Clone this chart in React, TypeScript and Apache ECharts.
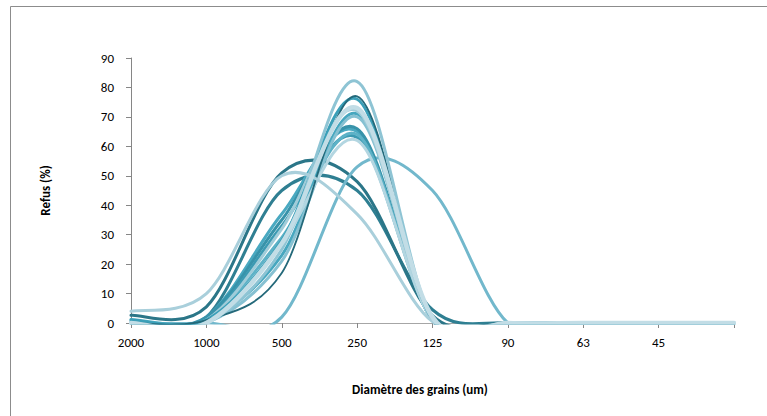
import React, { useEffect, useRef } from "react";
import * as echarts from "echarts";

// Sieve sizes (um); the last tick carries no label
const categories = ["2000", "1000", "500", "250", "125", "90", "63", "45", ""];

const yMin = 0;
const yMax = 90;
const yInterval = 10;

const xTitle = "Diamètre des grains (um)";
const yTitle = "Refus (%)";

// Refus (%) per sample, one value per sieve
const broadA = [2.6, 5.5, 51, 48, 2.5, 0, 0, 0, 0];
const broadB = [0.5, 2, 45, 45, 4.5, 0, 0, 0, 0];
const broadP = [4, 10, 50, 37, 0.5, 0, 0, 0, 0];
const broadR = [0, 0, 2, 53, 45, 0, 0, 0, 0];
const tall1 = [0, 0, 25, 82, 1, 0, 0, 0, 0];
const tall2 = [0, 1, 17, 77, 1, 0, 0, 0, 0];
const tall3 = [1, 1, 28, 76, 1, 0, 0, 0, 0];
const tall4 = [0, 0, 27, 73, 2, 0, 0, 0, 0];
const tall5 = [0.5, 1, 32, 72, 1, 0, 0, 0, 0];
const tall6 = [1.2, 1, 23, 71, 1, 0, 0, 0, 0];
const tall7 = [0, 0, 21, 70, 1, 0, 0, 0, 0];
const tall8 = [0, 2, 35, 66, 1, 0, 0, 0, 0];
const tall9 = [0, 2, 37, 65, 1, 0, 0, 0, 0];
const tall10 = [0, 1, 29, 64, 1, 0, 0, 0, 0];
const tall11 = [0, 1, 33, 63, 1, 0, 0, 0, 0];
const tall12 = [0.5, 0.5, 27, 62, 1, 0, 0, 0, 0];

const seriesList = [
  { name: "E1", data: broadB, color: "#2f7f92", width: 3 },
  { name: "E2", data: broadA, color: "#2b7688", width: 3 },
  { name: "E3", data: broadR, color: "#72b8cc", width: 3 },
  { name: "E4", data: tall9, color: "#4aa9c1", width: 3 },
  { name: "E5", data: tall8, color: "#3893aa", width: 3 },
  { name: "E6", data: tall11, color: "#3c9ab2", width: 3 },
  { name: "E7", data: tall10, color: "#5db2c7", width: 3 },
  { name: "E8", data: tall6, color: "#47a7bf", width: 3 },
  { name: "E9", data: tall7, color: "#86c1d2", width: 3 },
  { name: "E10", data: tall12, color: "#b3d6e1", width: 3 },
  { name: "E11", data: tall5, color: "#a0ccd9", width: 3 },
  { name: "E12", data: tall3, color: "#3a9fb8", width: 3 },
  { name: "E13", data: tall2, color: "#24697a", width: 1.8 },
  { name: "E14", data: tall1, color: "#8ec4d4", width: 3 },
  { name: "E15", data: broadP, color: "#a9cfdb", width: 3 },
  { name: "E16", data: tall4, color: "#c2dde6", width: 4.5 },
];

const FONT = "Carlito, Calibri, Lato, 'Open Sans', sans-serif";

// Smoothed line through the projected points (Catmull-Rom as cubic Bezier)
function smoothPath(pts: number[][]): string {
  let d = `M${pts[0][0]},${pts[0][1]}`;
  for (let i = 0; i < pts.length - 1; i++) {
    const p0 = pts[i - 1] || pts[i];
    const p1 = pts[i];
    const p2 = pts[i + 1];
    const p3 = pts[i + 2] || pts[i + 1];
    const c1x = p1[0] + (p2[0] - p0[0]) / 6;
    const c1y = p1[1] + (p2[1] - p0[1]) / 6;
    const c2x = p2[0] - (p3[0] - p1[0]) / 6;
    const c2y = p2[1] - (p3[1] - p1[1]) / 6;
    d += ` C${c1x},${c1y} ${c2x},${c2y} ${p2[0]},${p2[1]}`;
  }
  return d;
}

export default function App() {
  const ref = useRef<HTMLDivElement>(null);
  useEffect(() => {
    if (!ref.current) return;
    const chart = echarts.init(ref.current, undefined, { renderer: "svg" });
    chart.setOption({
      animation: false,
      backgroundColor: "#ffffff",
      grid: { left: 131, right: 33, top: 58, bottom: 93, containLabel: false },
      xAxis: {
        type: "category",
        data: categories,
        boundaryGap: false,
        axisLine: { show: true, lineStyle: { color: "#a6a6a6", width: 1 } },
        axisTick: { show: true, length: 5, lineStyle: { color: "#868686" } },
        axisLabel: {
          interval: 0,
          margin: 13,
          color: "#000000",
          fontSize: 13,
          fontFamily: FONT,
        },
        splitLine: { show: false },
      },
      yAxis: {
        type: "value",
        min: yMin,
        max: yMax,
        interval: yInterval,
        name: yTitle,
        nameLocation: "middle",
        nameGap: 79,
        nameRotate: 90,
        nameTextStyle: { fontSize: 13, fontWeight: "bold", color: "#000000", fontFamily: FONT },
        axisLine: { show: true, lineStyle: { color: "#868686", width: 1 } },
        axisTick: { show: true, length: 5, lineStyle: { color: "#868686" } },
        axisLabel: { margin: 17, color: "#000000", fontSize: 13, fontFamily: FONT },
        splitLine: { show: false },
      },
      graphic: [
        {
          type: "rect",
          shape: { x: 10.5, y: 6.5, width: 900, height: 600 },
          style: { fill: "none", stroke: "#8c8c8c", lineWidth: 1 },
          silent: true,
          z: -1,
        },
        {
          type: "text",
          x: 420,
          y: 389,
          style: {
            text: xTitle,
            fontSize: 13,
            fontWeight: "bold",
            fill: "#000000",
            fontFamily: FONT,
            textAlign: "center",
            textVerticalAlign: "middle",
          },
        },
      ],
      series: seriesList.map((s) => ({
        name: s.name,
        type: "custom",
        coordinateSystem: "cartesian2d",
        data: s.data.map((v, i) => [i, v]),
        encode: { x: 0, y: 1 },
        clip: true,
        silent: true,
        lineStyle: { width: 3 },
        renderItem: (params: any, api: any) => {
          if (params.dataIndex !== 0) return null;
          const pts = s.data.map((v, i) => api.coord([i, v]));
          return {
            type: "path",
            shape: { pathData: smoothPath(pts) },
            style: {
              fill: "none",
              stroke: s.color,
              lineWidth: s.width,
              lineCap: "round",
              lineJoin: "round",
            },
          };
        },
      })),
    });
    return () => chart.dispose();
  }, []);
  return (
    <div
      ref={ref}
      style={{ position: "fixed", left: 0, top: 0, width: 767, height: 416 }}
    />
  );
}
